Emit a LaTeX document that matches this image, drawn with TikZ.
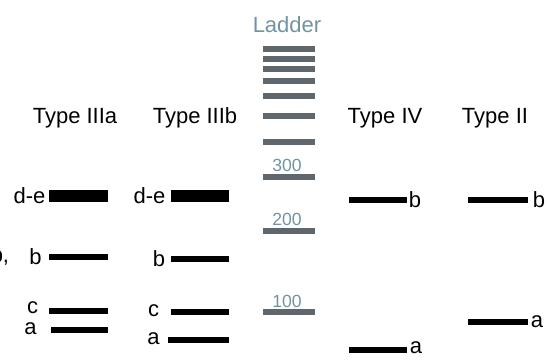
\documentclass[tikz,border=0pt]{standalone}
\usepackage{fontspec}
\setmainfont{Liberation Sans}
\definecolor{laddergray}{RGB}{95,103,108}
\definecolor{laddertext}{RGB}{112,148,162}
\tikzset{
  lanehead/.style={font=\fontsize{11}{13}\selectfont, anchor=base, inner sep=0pt},
  bandlabel/.style={font=\fontsize{11}{13}\selectfont, inner sep=0pt},
  band/.style={line width=3pt},
  thickband/.style={line width=6pt},
  ladderband/.style={laddergray, line width=2.8pt},
  ladderlabel/.style={laddertext, font=\fontsize{8.8}{10}\selectfont, anchor=base, inner sep=0pt}
}
\begin{document}
\begin{tikzpicture}[x=0.5pt, y=-0.5pt]
\useasboundingbox (0,0) rectangle (550,359);
% lane headings
\node[lanehead] (headIIIa) at (75,123) {Type IIIa};
\node[lanehead] (headIIIb) at (195,123) {Type IIIb};
\node[lanehead] (headIV) at (385,123) {Type IV};
\node[lanehead] (headII) at (495,123) {Type II};
\node[lanehead, laddertext] (headL) at (287,32) {Ladder};
% cut-off text at the left edge
\node[bandlabel, anchor=base east] (cut) at (9.5,262) {b,};
% ladder
\foreach \y in {49,59,69,81,96,116,142,177,231,312}
  {\draw[ladderband] (263,\y)--(315,\y);}
\foreach \y/\lab in {171/300,225/200,307/100}
  {\node[ladderlabel] (L\lab) at (287,\y) {\lab};}
% Type IIIa
\draw[thickband] (49,196)--(108,196);
\foreach \y/\xa in {257/49,311/49,330/51}
  {\draw[band] (\xa,\y)--(108,\y);}
\foreach \x/\y/\lab [count=\i] in {29.5/196/d-e,35.5/257/b,32.5/308/c,30.5/329/a}
  {\node[bandlabel] (IIIa\i) at (\x,\y) {\lab};}
% Type IIIb
\draw[thickband] (171,196)--(229,196);
\foreach \y/\xa in {259/171,312/171,340/168}
  {\draw[band] (\xa,\y)--(229,\y);}
\foreach \x/\y/\lab [count=\i] in {149.5/196/d-e,159/259/b,153.5/311/c,153.5/339/a}
  {\node[bandlabel] (IIIb\i) at (\x,\y) {\lab};}
% Type IV
\foreach \y in {200,350}
  {\draw[band] (349,\y)--(407,\y);}
\foreach \x/\y/\lab [count=\i] in {415/200/b,416/348/a}
  {\node[bandlabel] (IV\i) at (\x,\y) {\lab};}
% Type II
\foreach \y in {200,322}
  {\draw[band] (468,\y)--(528,\y);}
\foreach \x/\y/\lab [count=\i] in {539/200/b,537/322/a}
  {\node[bandlabel] (II\i) at (\x,\y) {\lab};}
\end{tikzpicture}
\end{document}
